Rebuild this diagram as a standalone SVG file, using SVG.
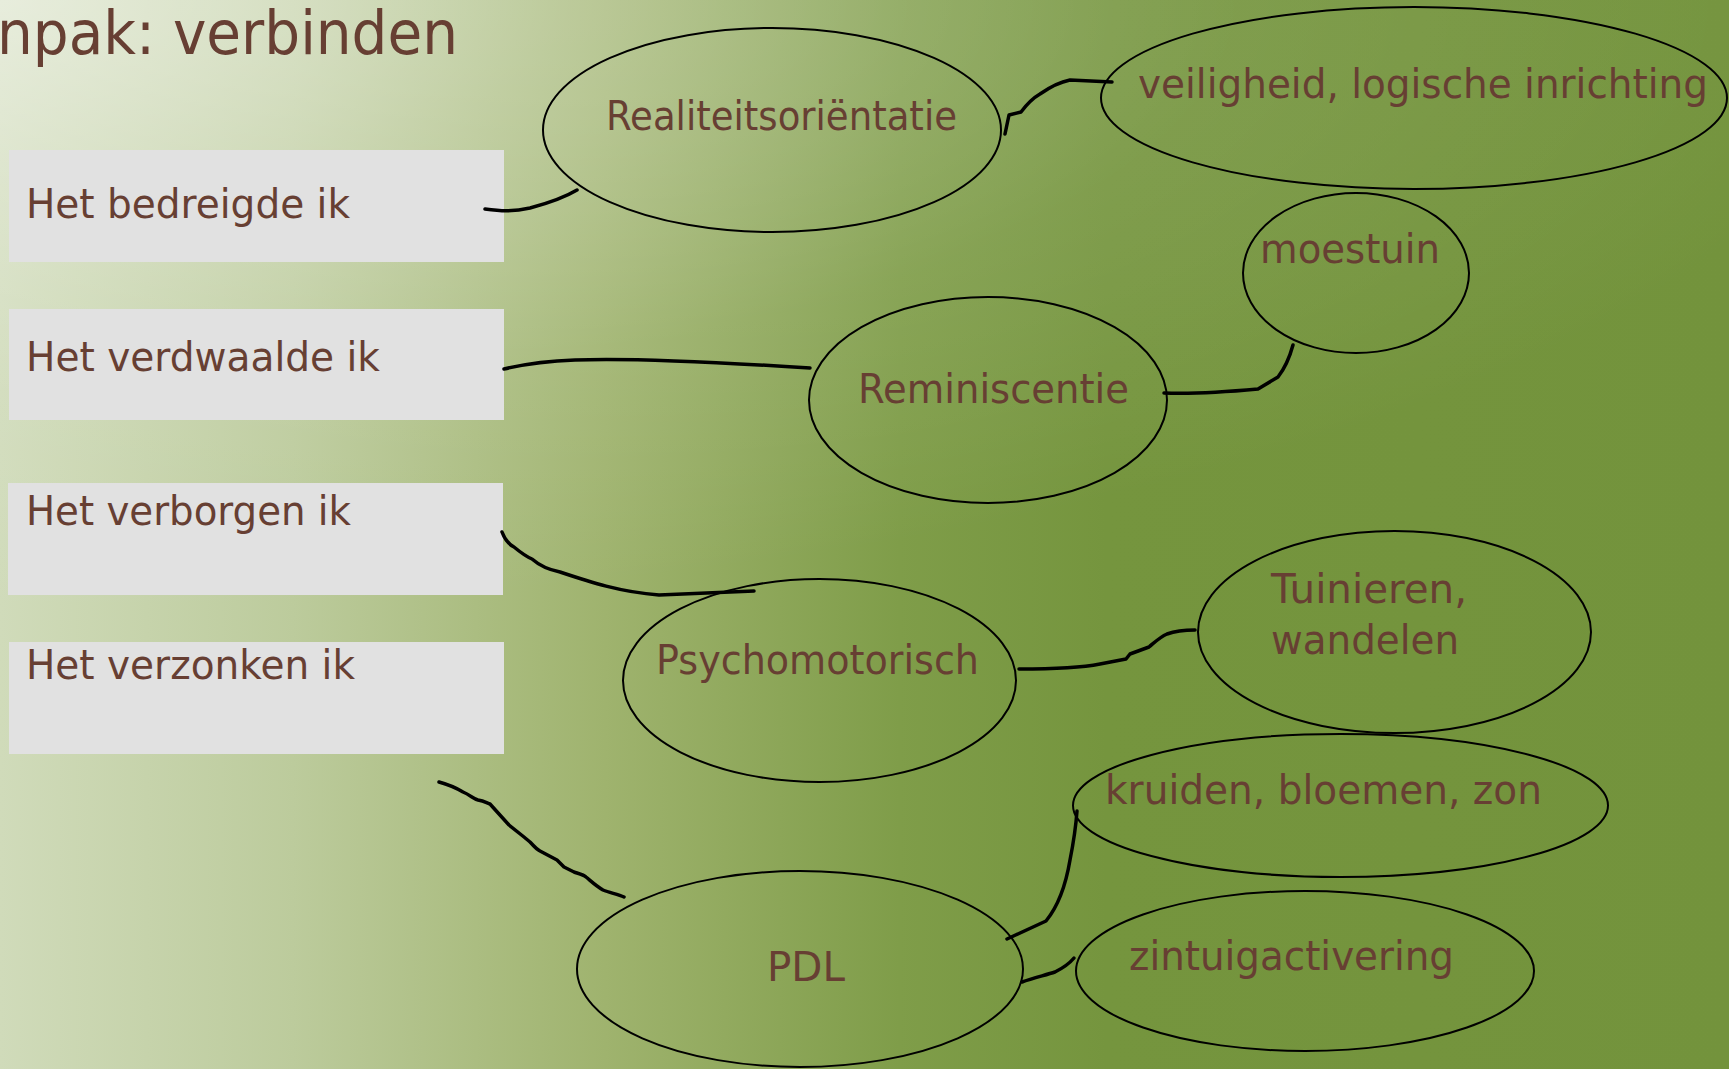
<svg xmlns="http://www.w3.org/2000/svg" width="1729" height="1069" viewBox="0 0 1729 1069">
<defs>
<linearGradient id="bg" x1="0" y1="0" x2="1729" y2="0" gradientUnits="userSpaceOnUse">
<stop offset="0" stop-color="#d0dbba"/>
<stop offset="0.17" stop-color="#bccb9c"/>
<stop offset="0.35" stop-color="#9fb36e"/>
<stop offset="0.52" stop-color="#7f9d49"/>
<stop offset="0.64" stop-color="#75953e"/>
<stop offset="1" stop-color="#73933c"/>
</linearGradient>
<radialGradient id="glow" cx="0" cy="0" r="1" gradientUnits="userSpaceOnUse" gradientTransform="translate(0,0) scale(1900,620)">
<stop offset="0" stop-color="#ffffff" stop-opacity="0.5"/>
<stop offset="0.3" stop-color="#ffffff" stop-opacity="0.28"/>
<stop offset="0.65" stop-color="#ffffff" stop-opacity="0.08"/>
<stop offset="1" stop-color="#ffffff" stop-opacity="0"/>
</radialGradient>
</defs>
<style>
.box{fill:#e1e1e1}
.txt{font-family:"DejaVu Sans","Liberation Sans",sans-serif;font-size:41px;fill:#673f33}
.ell{fill:none;stroke:#000;stroke-width:2}
.con{fill:none;stroke:#000;stroke-width:3.5;stroke-linecap:round;stroke-linejoin:round}
</style>
<rect x="0" y="0" width="1729" height="1069" fill="url(#bg)"/>
<rect x="0" y="0" width="1729" height="1069" fill="url(#glow)"/>
<text x="-3" y="54" class="txt" style="font-size:60px" textLength="461" lengthAdjust="spacingAndGlyphs">npak: verbinden</text>

<g id="box-bedreigde">
<rect class="box" x="9" y="150" width="495" height="112"/>
<text class="txt" x="26" y="218" textLength="324" lengthAdjust="spacingAndGlyphs">Het bedreigde ik</text>
</g>
<g id="box-verdwaalde">
<rect class="box" x="9" y="309" width="495" height="111"/>
<text class="txt" x="26" y="371" textLength="354" lengthAdjust="spacingAndGlyphs">Het verdwaalde ik</text>
</g>
<g id="box-verborgen">
<rect class="box" x="8" y="483" width="495" height="112"/>
<text class="txt" x="26" y="525" textLength="325" lengthAdjust="spacingAndGlyphs">Het verborgen ik</text>
</g>
<g id="box-verzonken">
<rect class="box" x="9" y="642" width="495" height="112"/>
<text class="txt" x="26" y="679" textLength="329" lengthAdjust="spacingAndGlyphs">Het verzonken ik</text>
</g>

<g id="node-realiteit">
<ellipse class="ell" cx="772" cy="130" rx="229" ry="102"/>
<text class="txt" x="606" y="130" textLength="351" lengthAdjust="spacingAndGlyphs">Realiteitsoriëntatie</text>
</g>
<g id="node-veiligheid">
<ellipse class="ell" cx="1414" cy="98" rx="313" ry="91"/>
<text class="txt" x="1138" y="98" textLength="570" lengthAdjust="spacingAndGlyphs">veiligheid, logische inrichting</text>
</g>
<g id="node-moestuin">
<ellipse class="ell" cx="1356" cy="273" rx="113" ry="80"/>
<text class="txt" x="1260" y="263" textLength="180" lengthAdjust="spacingAndGlyphs">moestuin</text>
</g>
<g id="node-reminiscentie">
<ellipse class="ell" cx="988" cy="400" rx="179" ry="103"/>
<text class="txt" x="858" y="403" textLength="271" lengthAdjust="spacingAndGlyphs">Reminiscentie</text>
</g>
<g id="node-psychomotorisch">
<ellipse class="ell" cx="819.5" cy="680.5" rx="196.5" ry="101.5"/>
<text class="txt" x="656" y="674" textLength="323" lengthAdjust="spacingAndGlyphs">Psychomotorisch</text>
</g>
<g id="node-tuinieren">
<ellipse class="ell" cx="1394.5" cy="632" rx="196.5" ry="101"/>
<text class="txt" x="1271" y="603" textLength="196" lengthAdjust="spacingAndGlyphs">Tuinieren,</text>
<text class="txt" x="1271" y="654" textLength="188" lengthAdjust="spacingAndGlyphs">wandelen</text>
</g>
<g id="node-kruiden">
<ellipse class="ell" cx="1340.5" cy="805.5" rx="267.5" ry="71.5"/>
<text class="txt" x="1105" y="804" textLength="437" lengthAdjust="spacingAndGlyphs">kruiden, bloemen, zon</text>
</g>
<g id="node-zintuig">
<ellipse class="ell" cx="1305" cy="971" rx="229" ry="80"/>
<text class="txt" x="1129" y="970" textLength="325" lengthAdjust="spacingAndGlyphs">zintuigactivering</text>
</g>
<g id="node-pdl">
<ellipse class="ell" cx="800" cy="969" rx="223" ry="98"/>
<text class="txt" x="767" y="981" textLength="78" lengthAdjust="spacingAndGlyphs">PDL</text>
</g>

<g id="connectors">
<path class="con" d="M485,209 C500,211 512,212 530,208 C545,204 562,199 577,190"/>
<path class="con" d="M1005,134 L1009,115 L1021,112 C1027,104 1033,98 1040,94 C1050,87 1060,82 1070,80 L1112,82"/>
<path class="con" d="M504,369 C525,364 545,361 575,360 C620,358 700,361 810,368"/>
<path class="con" d="M1164,393 C1190,394 1215,393 1258,389 L1278,377 C1285,368 1290,356 1293,345"/>
<path class="con" d="M502,532 C505,540 510,545 514,547 C520,552 525,556 532,559 C540,566 550,570 560,572 C590,582 620,592 659,595 L754,591"/>
<path class="con" d="M1019,669 C1050,669 1080,668 1100,664 L1126,659 L1130,654 L1149,647 C1155,642 1160,637 1167,634 C1178,630 1186,630 1195,630"/>
<path class="con" d="M439,782 C450,785 458,789 463,792 C470,795 474,799 478,800 C484,801 487,803 490,804 L509,825 L524,837 L530,842 C534,846 536,849 540,851 L557,860 L564,867 L574,872 C580,874 584,875 586,877 C592,882 596,886 603,890 C610,893 618,894 624,897"/>
<path class="con" d="M1007,939 L1046,921 C1055,910 1065,890 1070,860 C1074,840 1076,825 1077,811"/>
<path class="con" d="M1022,982 C1033,978 1046,975 1055,972 C1063,968 1069,964 1074,958"/>
</g>
</svg>
